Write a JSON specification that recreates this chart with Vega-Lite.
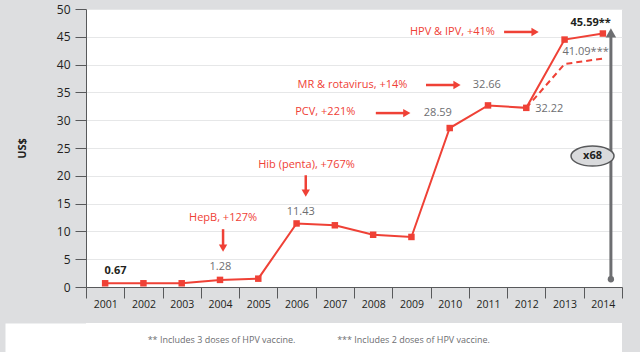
{
  "$schema": "https://vega.github.io/schema/vega-lite/v6.json",
  "background": "#dddee0",
  "padding": {"left": 16, "top": 3, "right": 20, "bottom": 0},
  "config": {
    "font": "Open Sans",
    "view": {"stroke": null},
    "concat": {"spacing": 13}
  },
  "datasets": {
    "main": [
      {"year": 2001, "value": 0.67}, {"year": 2002, "value": 0.67}, {"year": 2003, "value": 0.67},
      {"year": 2004, "value": 1.28}, {"year": 2005, "value": 1.5}, {"year": 2006, "value": 11.43},
      {"year": 2007, "value": 11.1}, {"year": 2008, "value": 9.4}, {"year": 2009, "value": 9.0},
      {"year": 2010, "value": 28.59}, {"year": 2011, "value": 32.66}, {"year": 2012, "value": 32.22},
      {"year": 2013, "value": 44.5}, {"year": 2014, "value": 45.59}
    ],
    "alt": [
      {"year": 2012, "value": 32.22}, {"year": 2013, "value": 40.1}, {"year": 2014, "value": 41.09}
    ],
    "labels": [
      {"x": 2004.01, "y": 3.55, "text": "1.28", "kind": "gray"},
      {"x": 2006.11, "y": 13.51, "text": "11.43", "kind": "gray"},
      {"x": 2009.69, "y": 31.28, "text": "28.59", "kind": "gray"},
      {"x": 2010.97, "y": 36.33, "text": "32.66", "kind": "gray"},
      {"x": 2012.6, "y": 32.0, "text": "32.22", "kind": "gray"},
      {"x": 2013.55, "y": 42.27, "text": "41.09***", "kind": "gray"},
      {"x": 2004.08, "y": 12.43, "text": "HepB, +127%", "kind": "red"},
      {"x": 2006.26, "y": 21.92, "text": "Hib (penta), +767%", "kind": "red"},
      {"x": 2006.75, "y": 31.41, "text": "PCV, +221%", "kind": "red"},
      {"x": 2007.46, "y": 36.33, "text": "MR & rotavirus, +14%", "kind": "red"},
      {"x": 2010.07, "y": 45.87, "text": "HPV & IPV, +41%", "kind": "red"}
    ],
    "boldLabels": [
      {"x": 2001.27, "y": 2.83, "text": "0.67"},
      {"x": 2013.68, "y": 47.49, "text": "45.59**"}
    ],
    "hArrows": [
      {"x1": 2008.07, "x2": 2008.88, "y": 31.28},
      {"x1": 2009.38, "x2": 2010.19, "y": 36.33},
      {"x1": 2011.42, "x2": 2012.23, "y": 45.87}
    ],
    "vArrows": [
      {"x": 2004.08, "y1": 10.4, "y2": 6.97},
      {"x": 2006.24, "y1": 20.1, "y2": 16.9}
    ],
    "growth": [
      {"x": 2014.21, "y1": 1.39, "y2": 45.7}
    ],
    "badge": [
      {"x": 2013.73, "y": 23.54, "text": "x68"}
    ],
    "notes": [
      {"note": "** Includes 3 doses of HPV vaccine."},
      {"note": "*** Includes 2 doses of HPV vaccine."}
    ]
  },
  "concat": [
    {
      "width": 536,
      "height": 278,
      "view": {"fill": "white", "stroke": null},
      "encoding": {
        "x": {
          "type": "quantitative",
          "scale": {"domain": [2000.5, 2014.5], "nice": false, "zero": false},
          "axis": {
            "title": null,
            "values": [2000.5, 2001.5, 2002.5, 2003.5, 2004.5, 2005.5, 2006.5, 2007.5, 2008.5, 2009.5, 2010.5, 2011.5, 2012.5, 2013.5, 2014.5],
            "labelExpr": "datum.value > 2014 ? '' : format(datum.value + 0.5, 'd')",
            "labelOffset": 19.14,
            "labelFlush": false,
            "labelOverlap": false,
            "labelBound": false,
            "grid": false,
            "tickSize": 11,
            "tickColor": "#58595b",
            "domainColor": "#58595b",
            "labelFontSize": 10.5,
            "labelColor": "#231f20",
            "labelPadding": 1
          }
        },
        "y": {
          "type": "quantitative",
          "scale": {"domain": [0, 50], "nice": false},
          "axis": {
            "title": "US$",
            "titleFontSize": 11,
            "titleFontWeight": "bold",
            "titleColor": "#231f20",
            "titlePadding": 29,
            "values": [0, 5, 10, 15, 20, 25, 30, 35, 40, 45, 50],
            "labelFontSize": 12,
            "labelColor": "#231f20",
            "labelPadding": 5,
            "tickSize": 11,
            "tickColor": "#58595b",
            "domainColor": "#58595b",
            "gridColor": "#e6e7e8"
          }
        }
      },
      "layer": [
        {
          "data": {"name": "growth"},
          "mark": {"type": "rule", "color": "#6d6e71", "strokeWidth": 3},
          "encoding": {"x": {"field": "x"}, "y": {"field": "y1"}, "y2": {"field": "y2"}}
        },
        {
          "data": {"name": "growth"},
          "mark": {"type": "point", "shape": "triangle-up", "filled": true, "color": "#6d6e71", "size": 110, "opacity": 1},
          "encoding": {"x": {"field": "x"}, "y": {"field": "y2"}}
        },
        {
          "data": {"name": "growth"},
          "mark": {"type": "point", "shape": "circle", "filled": true, "color": "#6d6e71", "size": 40, "opacity": 1},
          "encoding": {"x": {"field": "x"}, "y": {"field": "y1"}}
        },
        {
          "data": {"name": "badge"},
          "mark": {"type": "point", "shape": "M-1,0A1,0.465,0,1,0,1,0A1,0.465,0,1,0,-1,0Z", "size": 1849, "filled": true, "fill": "#d9dadc", "stroke": "#58595b", "strokeWidth": 1.5, "opacity": 1},
          "encoding": {"x": {"field": "x"}, "y": {"field": "y"}}
        },
        {
          "data": {"name": "badge"},
          "mark": {"type": "text", "fontSize": 11, "fontWeight": "bold", "color": "#231f20"},
          "encoding": {"x": {"field": "x"}, "y": {"field": "y"}, "text": {"field": "text"}}
        },
        {
          "data": {"name": "alt"},
          "mark": {"type": "line", "color": "#ef4136", "strokeWidth": 2, "strokeDash": [6, 4]},
          "encoding": {"x": {"field": "year"}, "y": {"field": "value"}}
        },
        {
          "data": {"name": "main"},
          "mark": {"type": "line", "color": "#ef4136", "strokeWidth": 2,
                   "point": {"shape": "square", "size": 42, "filled": true, "fill": "#ef4136", "opacity": 1}},
          "encoding": {"x": {"field": "year"}, "y": {"field": "value"}}
        },
        {
          "data": {"name": "hArrows"},
          "mark": {"type": "rule", "color": "#ef4136", "strokeWidth": 2.5},
          "encoding": {"x": {"field": "x1"}, "x2": {"field": "x2"}, "y": {"field": "y"}}
        },
        {
          "data": {"name": "hArrows"},
          "mark": {"type": "point", "shape": "triangle-right", "filled": true, "color": "#ef4136", "size": 70, "opacity": 1},
          "encoding": {"x": {"field": "x2"}, "y": {"field": "y"}}
        },
        {
          "data": {"name": "vArrows"},
          "mark": {"type": "rule", "color": "#ef4136", "strokeWidth": 2.5},
          "encoding": {"x": {"field": "x"}, "y": {"field": "y1"}, "y2": {"field": "y2"}}
        },
        {
          "data": {"name": "vArrows"},
          "mark": {"type": "point", "shape": "triangle-down", "filled": true, "color": "#ef4136", "size": 70, "opacity": 1},
          "encoding": {"x": {"field": "x"}, "y": {"field": "y2"}}
        },
        {
          "data": {"name": "labels"},
          "mark": {"type": "text", "fontSize": 11, "baseline": "middle"},
          "encoding": {
            "x": {"field": "x"},
            "y": {"field": "y"},
            "text": {"field": "text"},
            "color": {"field": "kind", "type": "nominal", "scale": {"domain": ["red", "gray"], "range": ["#ef4136", "#6d6e71"]}, "legend": null}
          }
        },
        {
          "data": {"name": "boldLabels"},
          "mark": {"type": "text", "fontSize": 11, "fontWeight": "bold", "baseline": "middle", "color": "#231f20"},
          "encoding": {"x": {"field": "x"}, "y": {"field": "y"}, "text": {"field": "text"}}
        }
      ]
    },
    {
      "width": 536,
      "height": 34,
      "view": {"fill": "white", "stroke": null},
      "data": {"name": "notes"},
      "mark": {"type": "text", "fontSize": 9, "color": "#6d6e71"},
      "encoding": {
        "x": {"field": "note", "type": "nominal", "sort": null, "axis": null,
              "scale": {"type": "point", "padding": 0.896, "align": 0.394}},
        "y": {"datum": "notes", "type": "nominal",
              "axis": {"title": null, "labels": false, "ticks": false, "grid": false,
                       "domainColor": "white", "domainWidth": 162}},
        "text": {"field": "note"}
      }
    }
  ],
  "columns": 1
}
